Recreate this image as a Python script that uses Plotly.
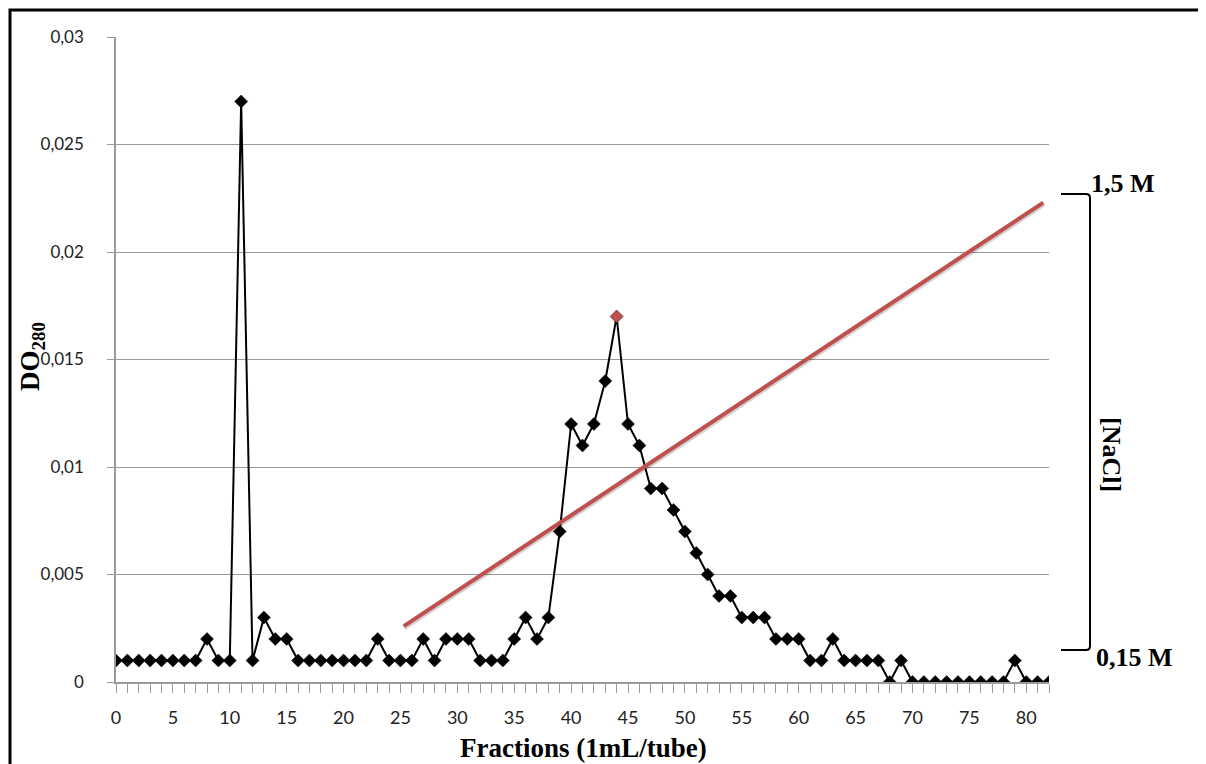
import plotly.graph_objects as go

fractions = list(range(0, 83))
do280 = [0.001, 0.001, 0.001, 0.001, 0.001, 0.001, 0.001, 0.001, 0.002, 0.001,
         0.001, 0.027, 0.001, 0.003, 0.002, 0.002, 0.001, 0.001, 0.001, 0.001,
         0.001, 0.001, 0.001, 0.002, 0.001, 0.001, 0.001, 0.002, 0.001, 0.002,
         0.002, 0.002, 0.001, 0.001, 0.001, 0.002, 0.003, 0.002, 0.003, 0.007,
         0.012, 0.011, 0.012, 0.014, 0.017, 0.012, 0.011, 0.009, 0.009, 0.008,
         0.007, 0.006, 0.005, 0.004, 0.004, 0.003, 0.003, 0.003, 0.002, 0.002,
         0.002, 0.001, 0.001, 0.002, 0.001, 0.001, 0.001, 0.001, 0.0, 0.001,
         0.0, 0.0, 0.0, 0.0, 0.0, 0.0, 0.0, 0.0, 0.0, 0.001,
         0.0, 0.0, 0.0]
peak_index = 44

gradient_x = [25.3, 81.5]
gradient_y = [0.0026, 0.0223]

y_tickvals = [0, 0.005, 0.01, 0.015, 0.02, 0.025, 0.03]
y_ticktext = ["0", "0,005", "0,01", "0,015", "0,02", "0,025", "0,03"]
x_tickvals = list(range(0, 85, 5))

marker_colors = ["#C0504D" if i == peak_index else "black" for i in range(len(fractions))]

fig = go.Figure()
fig.add_trace(go.Scatter(
    x=fractions, y=do280, mode="lines+markers",
    line=dict(color="black", width=2),
    marker=dict(symbol="diamond", size=10, color=marker_colors,
                line=dict(color="black", width=0.5)),
    showlegend=False, hoverinfo="x+y"))

# NaCl gradient line (shadow + line)
fig.add_trace(go.Scatter(
    x=gradient_x, y=[v - 0.00006 for v in gradient_y], mode="lines",
    line=dict(color="rgba(0,0,0,0.18)", width=6),
    showlegend=False, hoverinfo="skip"))
fig.add_trace(go.Scatter(
    x=gradient_x, y=gradient_y, mode="lines",
    line=dict(color="#C0504D", width=4),
    showlegend=False, hoverinfo="skip"))

OFF = 8  # page body margin
W, H = 1206 - OFF, 764 - OFF
L, T = 116 - OFF, 37 - OFF
PR, PB = 1049 - OFF, 682 - OFF
R, B = W - PR, H - PB
pw, ph = PR - L, PB - T

def px_x(p):
    return (p - OFF - L) / pw

def px_y(p):
    return 1 - (p - OFF - T) / ph

shapes = []
# outer frame
shapes.append(dict(type="rect", xref="paper", yref="paper",
                   x0=px_x(10), x1=px_x(1240), y0=px_y(800), y1=px_y(10),
                   line=dict(color="black", width=3), layer="above"))
# bracket
shapes.append(dict(type="path", xref="paper", yref="paper",
                   path=f"M {px_x(1061)},{px_y(194)} L {px_x(1086)},{px_y(194)} "
                        f"Q {px_x(1090)},{px_y(194)} {px_x(1090)},{px_y(198)} "
                        f"L {px_x(1090)},{px_y(646)} "
                        f"Q {px_x(1090)},{px_y(650)} {px_x(1086)},{px_y(650)} "
                        f"L {px_x(1061)},{px_y(650)}",
                   line=dict(color="black", width=2)))

serif = "Liberation Serif, Times New Roman, serif"
annotations = [
    dict(text="<b>1,5 M</b>", xref="paper", yref="paper", x=px_x(1089), y=px_y(183),
         xanchor="left", yanchor="middle", showarrow=False,
         font=dict(family=serif, size=26, color="black")),
    dict(text="<b>0,15 M</b>", xref="paper", yref="paper", x=px_x(1094), y=px_y(657),
         xanchor="left", yanchor="middle", showarrow=False,
         font=dict(family=serif, size=26, color="black")),
    dict(text="<b>[NaCl]</b>", xref="paper", yref="paper", x=px_x(1111), y=px_y(454),
         xanchor="center", yanchor="middle", showarrow=False, textangle=90,
         font=dict(family=serif, size=26, color="black")),
    dict(text="<b>DO<sub>280</sub></b>", xref="paper", yref="paper", x=px_x(32), y=px_y(357),
         xanchor="center", yanchor="middle", showarrow=False, textangle=-90,
         font=dict(family=serif, size=27, color="black")),
    dict(text="<b>Fractions (1mL/tube)</b>", xref="paper", yref="paper", x=px_x(583), y=px_y(748),
         xanchor="center", yanchor="middle", showarrow=False,
         font=dict(family=serif, size=27, color="black")),
]

fig.update_layout(
    width=W, height=H,
    margin=dict(l=L, r=R, t=T, b=B),
    paper_bgcolor="white", plot_bgcolor="white",
    shapes=shapes, annotations=annotations,
    font=dict(family="Lato, Open Sans, sans-serif", size=18, color="#222"),
    xaxis=dict(range=[0, 82], tickvals=x_tickvals, showgrid=False, zeroline=False,
               showline=True, linecolor="#9a9a9a", linewidth=1.5,
               ticks="outside", ticklen=9, tickcolor="#9a9a9a",
               minor=dict(dtick=1, ticks="outside", ticklen=9, tickcolor="#9a9a9a"),
               tickfont=dict(size=18), ticklabelstandoff=10),
    yaxis=dict(range=[0, 0.03], tickvals=y_tickvals, ticktext=y_ticktext,
               showgrid=True, gridcolor="#9a9a9a", gridwidth=1, zeroline=False,
               showline=True, linecolor="#9a9a9a", linewidth=1.5,
               ticks="outside", ticklen=7, tickcolor="#9a9a9a",
               tickfont=dict(size=17), ticklabelstandoff=20),
)

fig.write_html("out.html")
